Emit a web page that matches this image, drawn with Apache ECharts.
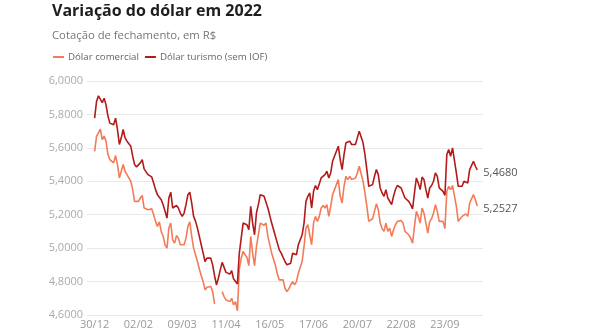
<!DOCTYPE html>
<html>
<head>
<meta charset="utf-8">
<script src="https://cdn.jsdelivr.net/npm/echarts@6/dist/echarts.min.js"></script>
<style>
html,body{margin:0;padding:0;background:#fff;}
#chart{width:590px;height:330px;}
</style>
</head>
<body>
<div id="chart"></div>
<script>
// ---- Data ----
const titleText = 'Variação do dólar em 2022';
const subtitleText = 'Cotação de fechamento, em R$';
const seriesNames = ['Dólar comercial', 'Dólar turismo (sem IOF)'];
const startDate = '2021-12-30';
const skipDates = ['2021-12-31','2022-02-28','2022-03-01','2022-04-15','2022-04-21','2022-06-16','2022-09-07','2022-10-12'];

const comercial = [
  5.579, 5.669, 5.690, 5.712, 5.650, 5.670, 5.640, 5.560, 5.530, 5.526,
  5.510, 5.554, 5.500, 5.420, 5.460, 5.500, 5.460, 5.440, 5.430, 5.400,
  5.350, 5.280, 5.270, 5.280, 5.300, 5.315, 5.240, 5.250, 5.230, 5.240,
  5.235, 5.200, 5.160, 5.130, 5.157, 5.100, 5.070, 5.020, 5.000, 5.120,
  5.150, 5.050, 5.030, 5.075, 5.060, 5.020, 5.010, 5.020, 5.060, 5.130,
  5.157, 5.070, 5.000, 4.960, 4.920, 4.875, 4.835, 4.800, 4.750, 4.766,
  4.755, 4.770, 4.740, 4.667, null, null, null, 4.740, 4.710, 4.690,
  4.685, 4.680, 4.700, 4.660, 4.680, 4.625, 4.875, 4.940, 4.980, 4.960,
  4.945, 4.895, 5.070, 4.970, 4.895, 5.010, 5.080, 5.150, 5.140, 5.137,
  5.150, 5.070, 5.060, 4.970, 4.965, 4.895, 4.845, 4.810, 4.815, 4.810,
  4.760, 4.740, 4.756, 4.780, 4.800, 4.780, 4.800, 4.850, 4.885, 4.920,
  5.010, 5.120, 5.140, 5.150, 5.020, 5.150, 5.190, 5.160, 5.190, 5.240,
  5.255, 5.240, 5.260, 5.190, 5.250, 5.320, 5.330, 5.380, 5.410, 5.310,
  5.270, 5.370, 5.430, 5.410, 5.430, 5.410, 5.410, 5.420, 5.450, 5.490,
  5.490, 5.400, 5.330, 5.250, 5.160, 5.168, 5.176, 5.220, 5.265, 5.230,
  5.150, 5.117, 5.100, 5.150, 5.100, 5.120, 5.070, 5.110, 5.140, 5.160,
  5.170, 5.165, 5.150, 5.100, 5.090, 5.080, 5.060, 5.030, 5.130, 5.220,
  5.190, 5.150, 5.240, 5.210, 5.150, 5.090, 5.160, 5.176, 5.210, 5.260,
  5.220, 5.160, 5.150, 5.160, 5.117, 5.340, 5.370, 5.350, 5.375, 5.375,
  5.250, 5.160, 5.176, 5.190, 5.200, 5.205, 5.190, 5.270, 5.265, 5.320,
  5.290, 5.2527
];

const turismo = [
  5.778, 5.877, 5.911, 5.920, 5.870, 5.897, 5.857, 5.790, 5.748, 5.738,
  5.738, 5.778, 5.710, 5.620, 5.660, 5.710, 5.660, 5.640, 5.630, 5.610,
  5.550, 5.500, 5.486, 5.494, 5.510, 5.530, 5.474, 5.466, 5.440, 5.430,
  5.426, 5.390, 5.350, 5.320, 5.330, 5.290, 5.260, 5.220, 5.180, 5.300,
  5.335, 5.240, 5.230, 5.255, 5.240, 5.210, 5.190, 5.210, 5.260, 5.320,
  5.335, 5.270, 5.190, 5.160, 5.120, 5.070, 5.020, 4.970, 4.920, 4.940,
  4.930, 4.940, 4.900, 4.835, 4.780, 4.820, 4.870, 4.915, 4.885, 4.855,
  4.865, 4.845, 4.865, 4.815, 4.825, 4.786, 4.970, 5.060, 5.150, 5.140,
  5.140, 5.110, 5.250, 5.150, 5.080, 5.210, 5.260, 5.320, 5.310, 5.310,
  5.320, 5.240, 5.250, 5.150, 5.140, 5.070, 5.030, 4.990, 4.970, 4.980,
  4.920, 4.900, 4.910, 4.910, 4.970, 4.960, 4.960, 5.020, 5.050, 5.080,
  5.150, 5.280, 5.310, 5.330, 5.240, 5.340, 5.375, 5.350, 5.360, 5.420,
  5.430, 5.440, 5.460, 5.420, 5.450, 5.520, 5.520, 5.580, 5.610, 5.530,
  5.470, 5.560, 5.630, 5.620, 5.640, 5.620, 5.610, 5.620, 5.630, 5.700,
  5.710, 5.630, 5.560, 5.470, 5.370, 5.375, 5.380, 5.430, 5.470, 5.440,
  5.360, 5.330, 5.310, 5.350, 5.300, 5.310, 5.260, 5.310, 5.350, 5.375,
  5.370, 5.360, 5.355, 5.300, 5.310, 5.280, 5.260, 5.235, 5.330, 5.420,
  5.390, 5.350, 5.425, 5.410, 5.350, 5.300, 5.360, 5.375, 5.400, 5.450,
  5.430, 5.360, 5.350, 5.340, 5.316, 5.560, 5.590, 5.550, 5.600, 5.600,
  5.450, 5.370, 5.360, 5.370, 5.400, 5.410, 5.390, 5.470, 5.480, 5.520,
  5.490, 5.468
];

const yMin = 4.6, yMax = 6.0, yStep = 0.2;
const labelEvery = 23;

// ---- Build categories (trading days) ----
function pad2(n){ return (n<10?'0':'') + n; }
const dates = [];
(function(){
  const d = new Date(startDate + 'T12:00:00Z');
  while (dates.length < turismo.length) {
    const iso = d.toISOString().slice(0,10);
    const wd = d.getUTCDay();
    if (wd !== 0 && wd !== 6 && skipDates.indexOf(iso) < 0) {
      dates.push(pad2(d.getUTCDate()) + '/' + pad2(d.getUTCMonth()+1));
    }
    d.setUTCDate(d.getUTCDate()+1);
  }
})();
const padStart = 4, padEnd = 3;
const emptyStart = new Array(padStart).fill(null);
const emptyEnd = new Array(padEnd).fill(null);
const categories = new Array(padStart).fill('').concat(dates).concat(new Array(padEnd).fill(''));

const FONT = '"Open Sans", "Noto Sans", sans-serif';
const fmt = v => Number(v).toFixed(4).replace('.', ',');

const chart = echarts.init(document.getElementById('chart'), null, {renderer:'canvas'});
chart.setOption({
  animation: false,
  backgroundColor: '#ffffff',
  textStyle: { fontFamily: FONT },
  title: [
    { text: titleText, left: 52, top: 3, padding: 0,
      textStyle: { fontFamily: FONT, fontSize: 16, fontWeight: 'bold', color: '#1e1e1e' } },
    { text: subtitleText, left: 52, top: 30, padding: 0,
      textStyle: { fontFamily: FONT, fontSize: 11.3, fontWeight: 'normal', color: '#777777' } }
  ],
  legend: {
    left: 53, top: 52, padding: 0,
    icon: 'rect', itemWidth: 11, itemHeight: 2, itemGap: 6,
    textStyle: { fontFamily: FONT, fontSize: 9.7, color: '#666666', padding: [0,0,0,-1] },
    data: seriesNames
  },
  grid: { left: 87, right: 107, top: 81, bottom: 13, containLabel: false },
  xAxis: {
    type: 'category',
    data: categories,
    boundaryGap: false,
    axisLine: { show: false },
    axisTick: { show: false },
    splitLine: { show: false },
    axisLabel: {
      interval: (idx) => idx >= padStart && (idx - padStart) % labelEvery === 0,
      margin: 4,
      fontFamily: FONT, fontSize: 11, color: '#999999'
    }
  },
  yAxis: {
    type: 'value',
    min: yMin, max: yMax, interval: yStep,
    axisLine: { show: false },
    axisTick: { show: false },
    splitLine: { lineStyle: { color: '#e9e9e9', width: 1 } },
    axisLabel: { formatter: fmt, margin: 4, fontFamily: FONT, fontSize: 11, color: '#aaaaaa' }
  },
  series: [
    {
      name: seriesNames[0], type: 'line',
      data: emptyStart.concat(comercial).concat(emptyEnd),
      showSymbol: false, symbol: 'none', connectNulls: false,
      lineStyle: { color: '#f47b5a', width: 1.6 },
      itemStyle: { color: '#f47b5a' },
      endLabel: { show: true, formatter: p => fmt(p.value), distance: 6,
        fontFamily: FONT, fontSize: 11, color: '#555555', offset: [0, 3] }
    },
    {
      name: seriesNames[1], type: 'line',
      data: emptyStart.concat(turismo).concat(emptyEnd),
      showSymbol: false, symbol: 'none', connectNulls: false,
      lineStyle: { color: '#b31b1b', width: 1.6 },
      itemStyle: { color: '#b31b1b' },
      endLabel: { show: true, formatter: p => fmt(p.value), distance: 6,
        fontFamily: FONT, fontSize: 11, color: '#555555', offset: [0, 3] }
    }
  ]
});
</script>
</body>
</html>
